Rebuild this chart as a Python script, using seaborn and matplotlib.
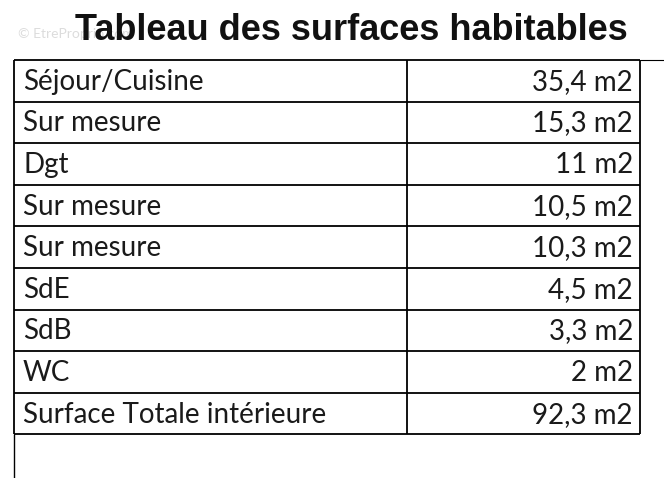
import matplotlib
matplotlib.use("Agg")
import matplotlib.pyplot as plt
import seaborn as sns

# Data
pieces = ["Séjour/Cuisine", "Sur mesure", "Dgt", "Sur mesure", "Sur mesure",
          "SdE", "SdB", "WC", "Surface Totale intérieure"]
surfaces = ["35,4 m2", "15,3 m2", "11 m2", "10,5 m2", "10,3 m2",
            "4,5 m2", "3,3 m2", "2 m2", "92,3 m2"]
title = "Tableau des surfaces habitables"

sns.set_style("white")
plt.rcParams['font.family'] = ['Lato', 'DejaVu Sans']

W, H = 664, 478
fig = plt.figure(figsize=(W / 100, H / 100), dpi=100)
ax = fig.add_axes([0, 0, 1, 1])
ax.set_xlim(0, W)
ax.set_ylim(H, 0)
ax.axis("off")

left, mid, right = 14, 407, 640
top, row_h = 60, 41.6
n = len(pieces)
bottom = top + n * row_h

# grid
for i in range(n + 1):
    ax.hlines(top + i * row_h, left, right, color="black", lw=1.3)
ax.vlines([left, mid, right], top, bottom, color="black", lw=1.3)
ax.vlines(left, bottom, H, color="black", lw=1.0)
ax.hlines(top, right, W, color="black", lw=0.8)

for i, (p, s) in enumerate(zip(pieces, surfaces)):
    y = top + (i + 0.5) * row_h
    ax.text(left + 9, y + 1, p, fontsize=20, va="center", ha="left", color="#1a1a1a")
    ax.text(right - 7, y + 1, s, fontsize=20, va="center", ha="right", color="#1a1a1a")

ax.text(351, 30, title, fontsize=26, fontweight="bold", ha="center", va="center",
        family=["Liberation Sans", "DejaVu Sans"], color="#111111", zorder=3)
# faint watermark behind the title
ax.text(18, 34, "© EtreProprio.com", fontsize=10, color="#dcdcdc", ha="left", va="center", zorder=1)

fig.savefig("out.png", dpi=100)
